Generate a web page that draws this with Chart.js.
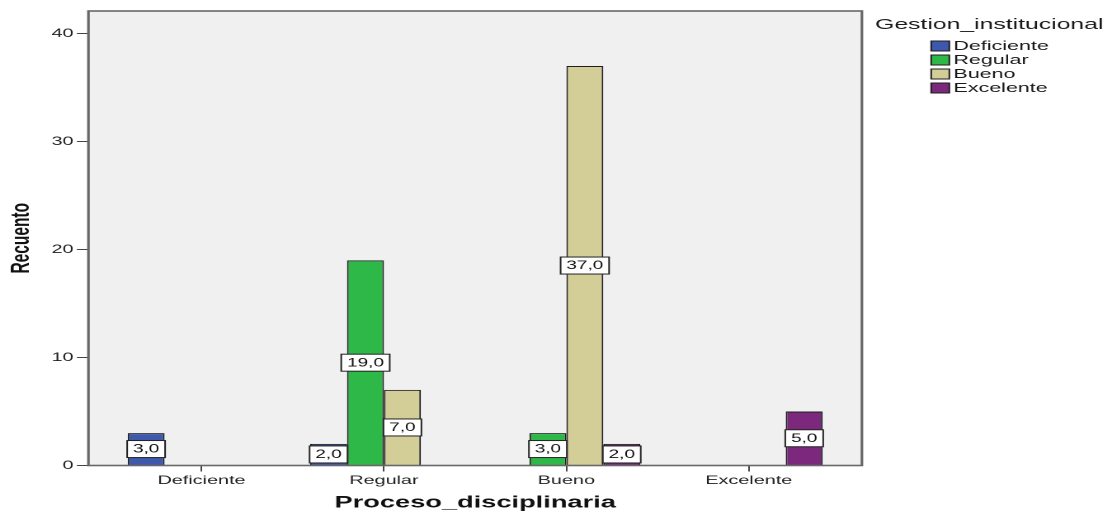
<!DOCTYPE html>
<html>
<head>
<meta charset="utf-8">
<title>Proceso_disciplinaria × Gestion_institucional</title>
<script src="https://cdn.jsdelivr.net/npm/chart.js@4.4.1/dist/chart.umd.min.js"></script>
<style>
  html, body { margin: 0; padding: 0; background: #ffffff; overflow: hidden; }
  /* drawn on a narrower canvas and widened, like the wide SPSS export */
  #c { display: block; width: 1112px !important; height: 514px !important; }
</style>
</head>
<body>
<canvas id="c" width="674" height="514"></canvas>
<script>
// Categories on the x axis (Proceso_disciplinaria)
const categories = ['Deficiente', 'Regular', 'Bueno', 'Excelente'];

// Counts per Gestion_institucional level (null = no cases)
const deficiente = [3, 2, null, null];
const regular    = [null, 19, 3, null];
const bueno      = [null, 7, 37, null];
const excelente  = [null, null, 2, 5];

// Y axis ticks
const yTicks = [0, 10, 20, 30, 40];

const seriesNames  = ['Deficiente', 'Regular', 'Bueno', 'Excelente'];
const seriesColors = ['#3E58AC', '#2EB848', '#D3CE97', '#7C287D'];
const seriesValues = [deficiente, regular, bueno, excelente];

const FONT = '"Liberation Sans", Arial, sans-serif';

const datasets = seriesNames.map((name, k) => ({
  label: name,
  data: seriesValues[k].map((v, i) => ({ x: i, y: v })),
  backgroundColor: seriesColors[k],
  borderColor: '#1e1e1e',
  borderWidth: 1,
  categoryPercentage: 0.81,
  barPercentage: 1.0
}));

// Light grey plot area and its frame
const plotFrame = {
  id: 'plotFrame',
  beforeDraw(chart) {
    const { ctx, chartArea: a } = chart;
    ctx.save();
    ctx.fillStyle = '#F0F0F0';
    ctx.fillRect(a.left, a.top, a.right - a.left, a.bottom - a.top);
    ctx.restore();
  },
  afterDatasetsDraw(chart) {
    const { ctx, chartArea: a } = chart;
    ctx.save();
    ctx.strokeStyle = '#686868';
    ctx.lineWidth = 1.6;
    ctx.strokeRect(a.left, a.top, a.right - a.left, a.bottom - a.top);
    ctx.restore();
  }
};

// Boxed value labels in the middle of each bar
const valueBoxes = {
  id: 'valueBoxes',
  afterDatasetsDraw(chart) {
    const ctx = chart.ctx;
    const a = chart.chartArea;
    ctx.save();
    ctx.font = '11.5px ' + FONT;
    ctx.textAlign = 'center';
    ctx.textBaseline = 'middle';
    chart.data.datasets.forEach((ds, di) => {
      const meta = chart.getDatasetMeta(di);
      meta.data.forEach((bar, i) => {
        const v = ds.data[i].y;
        if (v === null || v === undefined) return;
        const text = v.toFixed(1).replace('.', ',');
        const w = ctx.measureText(text).width + 7;
        const h = 17;
        const cx = bar.x;
        // centred on the bar, kept inside the plot above the axis
        const cy = Math.min((bar.y + bar.base) / 2, a.bottom - h / 2 - 1);
        ctx.fillStyle = '#ffffff';
        ctx.fillRect(cx - w / 2, cy - h / 2, w, h);
        ctx.strokeStyle = '#222222';
        ctx.lineWidth = 1;
        ctx.strokeRect(cx - w / 2, cy - h / 2, w, h);
        ctx.fillStyle = '#111111';
        ctx.fillText(text, cx, cy + 0.5);
      });
    });
    ctx.restore();
  }
};

// Legend with its title on the right
const sideLegend = {
  id: 'sideLegend',
  afterDraw(chart) {
    const ctx = chart.ctx;
    const a = chart.chartArea;
    const x0 = a.right + 8;
    ctx.save();
    ctx.textAlign = 'left';
    ctx.textBaseline = 'alphabetic';
    ctx.fillStyle = '#1a1a1a';
    ctx.font = '15px ' + FONT;
    ctx.fillText('Gestion_institucional', x0, 29);
    ctx.font = '13px ' + FONT;
    chart.data.datasets.forEach((ds, i) => {
      const base = 50 + i * 14;
      const bx = x0 + 34;
      ctx.fillStyle = ds.backgroundColor;
      ctx.fillRect(bx, base - 9, 11, 10);
      ctx.strokeStyle = '#1e1e1e';
      ctx.lineWidth = 1;
      ctx.strokeRect(bx, base - 9, 11, 10);
      ctx.fillStyle = '#1a1a1a';
      ctx.fillText(ds.label, bx + 13.5, base);
    });
    ctx.restore();
  }
};

new Chart(document.getElementById('c'), {
  type: 'bar',
  data: { datasets },
  plugins: [plotFrame, valueBoxes, sideLegend],
  options: {
    responsive: false,
    animation: false,
    devicePixelRatio: 2,
    layout: { padding: { left: 0, top: 11, right: 151.6, bottom: 0 } },
    plugins: { legend: { display: false }, tooltip: { enabled: false } },
    scales: {
      x: {
        type: 'linear',
        offset: false,
        min: -0.62,
        max: 3.62,
        afterFit(s) { s.height = 48.5; },
        afterBuildTicks(s) {
          s.ticks = categories.map((c, i) => ({ value: i }));
        },
        border: { display: false },
        grid: { offset: false, drawOnChartArea: false, drawTicks: true, tickLength: 6, tickColor: '#444', tickWidth: 1 },
        ticks: {
          autoSkip: false, maxRotation: 0, padding: 2,
          color: '#222', font: { family: FONT, size: 12 },
          callback: (v) => categories[v]
        },
        title: {
          display: true, text: 'Proceso_disciplinaria', color: '#111',
          font: { family: FONT, size: 16.5, weight: 'bold' },
          padding: { top: 0, bottom: 1 }
        }
      },
      y: {
        type: 'linear',
        min: 0,
        max: 42.1,
        afterFit(s) { s.width = 53.6; },
        afterBuildTicks(s) {
          s.ticks = yTicks.map(v => ({ value: v }));
        },
        border: { display: false },
        grid: { drawOnChartArea: false, drawTicks: true, tickLength: 7, tickColor: '#444', tickWidth: 1 },
        ticks: { padding: 2, color: '#222', font: { family: FONT, size: 12 } },
        title: {
          display: true, text: 'Recuento', color: '#111',
          font: { family: FONT, size: 15.5, weight: 'bold' },
          padding: { top: 4, bottom: 0 }
        }
      }
    }
  }
});
</script>
</body>
</html>
